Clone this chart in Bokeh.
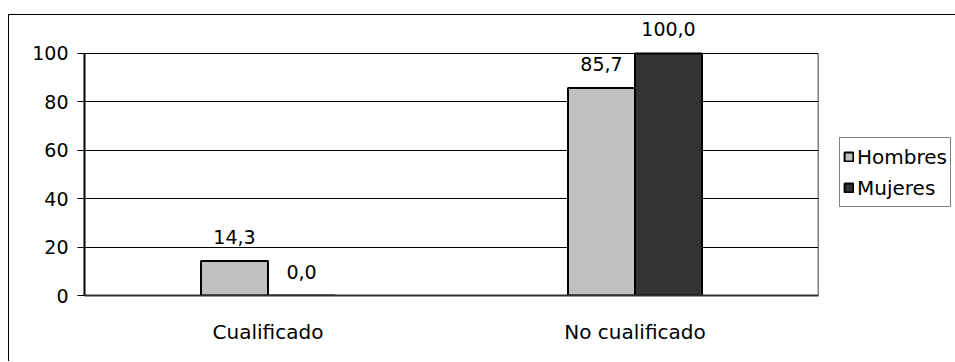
from bokeh.plotting import figure
from bokeh.models import (ColumnDataSource, FactorRange, Range1d, Legend, LegendItem,
                          LabelSet, FixedTicker)
from bokeh.core.properties import value
from bokeh.transform import dodge
from bokeh.embed import file_html
from bokeh.resources import INLINE

categories = ["Cualificado", "No cualificado"]
hombres = [14.3, 85.7]
mujeres = [0.0, 100.0]
y_ticks = [0, 20, 40, 60, 80, 100]
series_names = ["Hombres", "Mujeres"]
series_colors = ["#C0C0C0", "#333333"]

FONT = "DejaVu Sans"

source = ColumnDataSource(data=dict(
    cat=categories,
    hombres=hombres,
    mujeres=mujeres,
    hombres_lbl=[f"{v:.1f}".replace(".", ",") for v in hombres],
    mujeres_lbl=[f"{v:.1f}".replace(".", ",") for v in mujeres],
))

y_min, y_max = y_ticks[0], y_ticks[-1]

p = figure(
    x_range=FactorRange(*categories, range_padding=0),
    y_range=Range1d(y_min, y_max * 1.14),   # headroom for the value labels
    frame_width=734, frame_height=276,
    output_backend="svg", toolbar_location=None,
    min_border_left=75, min_border_top=4, min_border_right=136, min_border_bottom=66,
)
p.styles = {"margin-top": "14px", "margin-left": "8px",
            "border-top": "1px solid black", "border-left": "1px solid black"}

bw = 0.1826
r1 = p.vbar(x=dodge("cat", -bw / 2, range=p.x_range), top="hombres", width=bw,
            source=source, fill_color=series_colors[0], line_color="black", line_width=2)
r2 = p.vbar(x=dodge("cat", bw / 2, range=p.x_range), top="mujeres", width=bw,
            source=source, fill_color=series_colors[1], line_color="black", line_width=2)

# right-hand border of the plot area, from the axis minimum to the axis maximum
edge = ColumnDataSource(data=dict(cat=[categories[-1]], y0=[y_min], y1=[y_max]))
p.segment(x0=dodge("cat", 0.5, range=p.x_range), y0="y0",
          x1=dodge("cat", 0.5, range=p.x_range), y1="y1",
          source=edge, line_color="black", line_width=1.5)

for col, off in (("hombres", -bw / 2), ("mujeres", bw / 2)):
    p.add_layout(LabelSet(x=dodge("cat", off, range=p.x_range), y=col, text=col + "_lbl",
                          source=source, y_offset=17, text_align="center",
                          text_baseline="alphabetic", text_font=value(FONT),
                          text_font_size="19px", text_color="black"))

p.outline_line_color = None
p.background_fill_color = "white"
p.border_fill_color = "white"

p.xgrid.grid_line_color = None
p.ygrid.grid_line_color = "black"
p.ygrid.grid_line_width = 1
p.ygrid.ticker = FixedTicker(ticks=y_ticks)

p.yaxis.ticker = FixedTicker(ticks=y_ticks)
p.yaxis.bounds = (y_min, y_max)
p.yaxis.axis_line_color = "black"
p.yaxis.axis_line_width = 2
p.yaxis.major_tick_out = 7
p.yaxis.major_tick_in = 0
p.yaxis.major_tick_line_color = "black"
p.yaxis.minor_tick_line_color = None
p.yaxis.major_label_standoff = 9
p.yaxis.major_label_text_font = FONT
p.yaxis.major_label_text_font_size = "19px"
p.yaxis.major_label_text_color = "black"

p.xaxis.axis_line_color = "#303030"
p.xaxis.axis_line_width = 2
p.xaxis.major_tick_line_color = None
p.xaxis.minor_tick_line_color = None
p.xaxis.major_label_standoff = 18
p.xaxis.major_label_text_font = FONT
p.xaxis.major_label_text_font_size = "20px"
p.xaxis.major_label_text_color = "black"

legend = Legend(items=[LegendItem(label=series_names[0], renderers=[r1]),
                       LegendItem(label=series_names[1], renderers=[r2])],
                location=(21, 88), orientation="vertical")
legend.margin = 0
legend.padding = 3
legend.spacing = 0
legend.glyph_width = 11
legend.glyph_height = 11
legend.label_standoff = 3
legend.label_height = 31
legend.label_text_font = FONT
legend.label_text_font_size = "20px"
legend.label_text_color = "black"
legend.border_line_color = "black"
legend.border_line_width = 1
legend.background_fill_color = "white"
legend.background_fill_alpha = 1
p.add_layout(legend, "right")

open("out.html", "w").write(file_html(p, INLINE))
